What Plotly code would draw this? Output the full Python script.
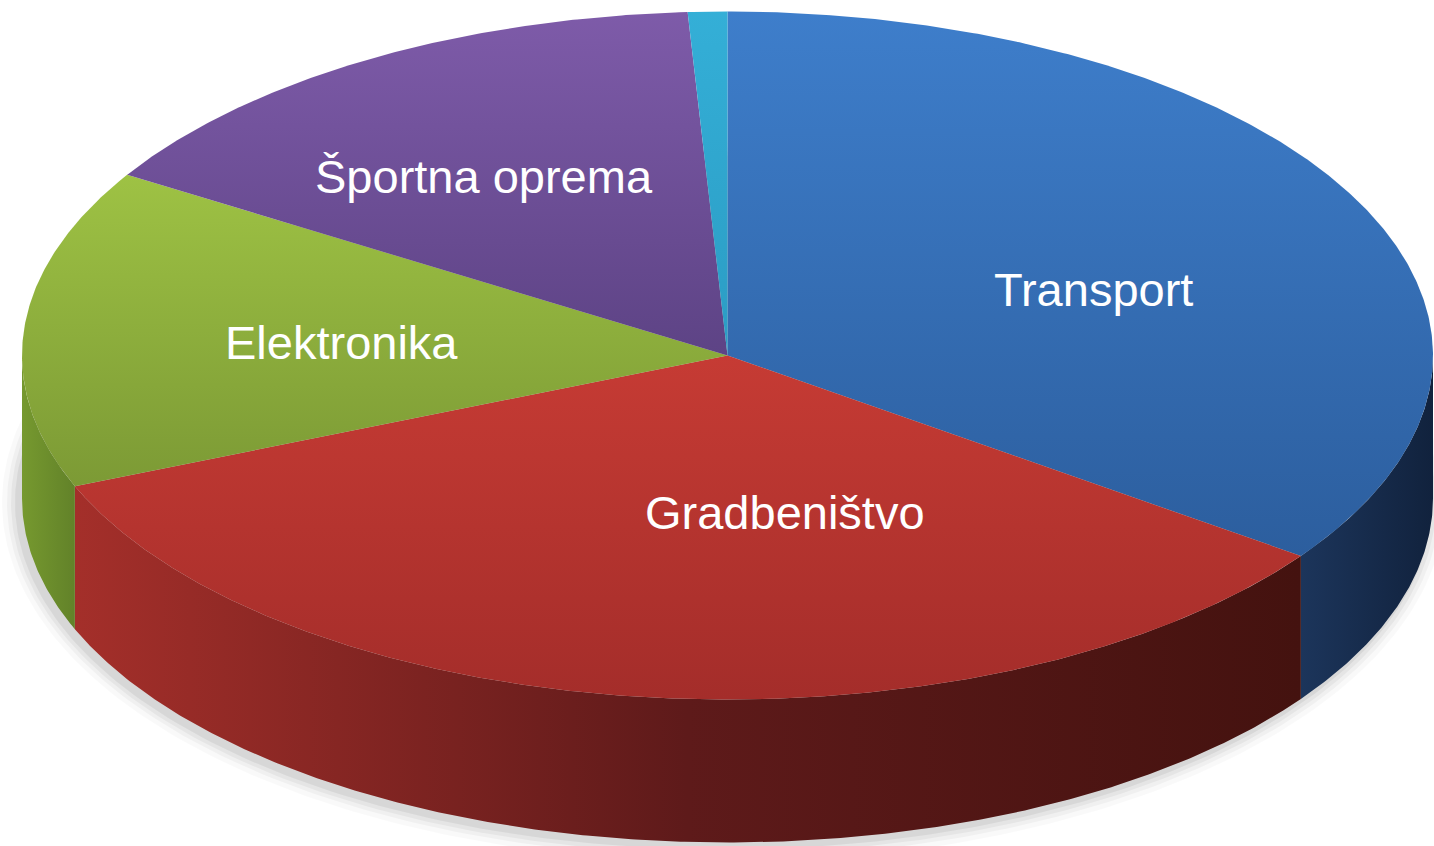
import numpy as np
import plotly.graph_objects as go

# ---- data ----
categories = ["Transport", "Gradbeništvo", "Elektronika", "Športna oprema", "Drugo"]
values = [34.9, 33.9, 15.0, 15.3, 0.9]
show_label = [True, True, True, True, False]

# ---- styles ----
top_colors = [("#3E7ECB", "#2C5E9E"), ("#C63B34", "#A42D2A"), ("#9EC244", "#7C9A35"),
              ("#7E5BA9", "#5D4385"), ("#34AFD7", "#2B9CC4")]
side_colors = [[(0, "#1C355B"), (1, "#11223D")],
               [(0, "#A42F2A"), (0.5, "#5E1A1A"), (1, "#44120F")],
               [(0, "#76992F"), (1, "#628229")],
               [(0, "#4A3570"), (1, "#4A3570")],
               [(0, "#1F7FA0"), (1, "#1F7FA0")]]
label_pos = {"Transport": (1093, 289), "Gradbeništvo": (785, 512),
             "Elektronika": (341, 342), "Športna oprema": (484, 176)}

W, H = 1434, 846
cx, cy, rx, ry, depth = 727.5, 355.5, 705.5, 344.0, 143.0


def arc(a1, a2, dy=0.0, n=None):
    if n is None:
        n = max(8, int(abs(a2 - a1) * 3))
    t = np.radians(np.linspace(a1, a2, n))
    return cx + rx * np.cos(t), cy + dy - ry * np.sin(t)


fig = go.Figure()

# soft shadow under the pie
for k, a in [(16, 0.025), (11, 0.035), (7, 0.045), (3, 0.06)]:
    t = np.radians(np.linspace(0, 360, 400))
    xs = cx - 4 + (rx + k) * np.cos(t)
    ys = cy + depth + 4 - (ry + k) * np.sin(t)
    fig.add_trace(go.Scatter(x=xs, y=ys, mode="lines", fill="toself",
                             fillcolor=f"rgba(0,0,0,{a})", line=dict(width=0),
                             hoverinfo="skip"))

total = sum(values)
angles = []
cum = 0.0
for v in values:
    a_start = 90 - 360 * cum / total
    cum += v
    a_end = 90 - 360 * cum / total
    angles.append((a_start, a_end))

# front side walls (visible for angles between -180 and 0)
for i, (a_start, a_end) in enumerate(angles):
    lo, hi = max(a_end, -180), min(a_start, 0)
    if hi <= lo:
        continue
    x1, y1 = arc(hi, lo)
    x2, y2 = arc(lo, hi, dy=depth)
    xs = np.concatenate([x1, x2, x1[:1]])
    ys = np.concatenate([y1, y2, y1[:1]])
    cs = side_colors[i]
    fig.add_trace(go.Scatter(
        x=xs, y=ys, mode="lines", fill="toself", line=dict(width=0),
        fillgradient=dict(type="horizontal", colorscale=[list(c) for c in cs],
                          start=float(xs.min()), stop=float(xs.max())),
        hoverinfo="skip"))

# top faces
for i, (a_start, a_end) in enumerate(angles):
    xa, ya = arc(a_start, a_end)
    xs = np.concatenate([[cx], xa, [cx]])
    ys = np.concatenate([[cy], ya, [cy]])
    c1, c2 = top_colors[i]
    fig.add_trace(go.Scatter(
        x=xs, y=ys, mode="lines", fill="toself", line=dict(width=0),
        fillgradient=dict(type="vertical", colorscale=[[0, c1], [1, c2]],
                          start=float(ys.min()), stop=float(ys.max())),
        name=categories[i], text=f"{categories[i]}: {values[i]}%",
        hoverinfo="text"))

annotations = []
for name, show in zip(categories, show_label):
    if not show:
        continue
    x, y = label_pos[name]
    annotations.append(dict(x=x, y=y, xref="x", yref="y", text=name, showarrow=False,
                            xanchor="center", yanchor="middle",
                            font=dict(family="Liberation Sans, Arial", size=47, color="white")))

fig.update_layout(
    width=W, height=H, margin=dict(l=0, r=0, t=0, b=0),
    paper_bgcolor="white", plot_bgcolor="white", showlegend=False,
    xaxis=dict(range=[0, W], visible=False, fixedrange=True),
    yaxis=dict(range=[H, 0], visible=False, fixedrange=True),
    annotations=annotations,
)

fig.write_html("out.html")
